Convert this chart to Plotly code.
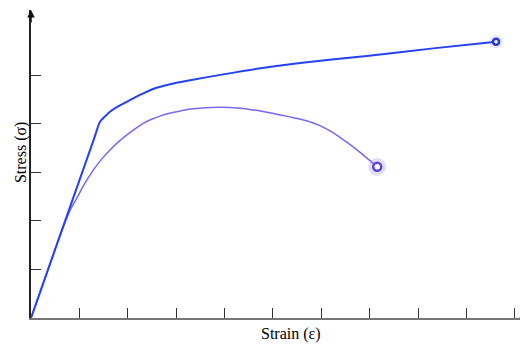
import plotly.graph_objects as go

# Data (strain and stress in tick units)
blue_strain = [0.0, 0.70, 1.30, 1.426, 1.53, 1.632, 1.80, 1.977, 2.15, 2.320, 2.527, 2.75, 3.010,
               3.29, 3.97, 4.67, 5.56, 6.94, 8.31, 9.61]
blue_stress = [0.0, 1.983, 3.682, 4.039, 4.15, 4.245, 4.355, 4.451, 4.54, 4.623, 4.715, 4.78, 4.841,
               4.895, 5.015, 5.13, 5.25, 5.395, 5.55, 5.685]

purple_strain = [0.0, 0.30, 0.60, 0.72, 0.83, 0.944, 1.10, 1.287, 1.46, 1.632, 1.80, 1.977, 2.15,
                 2.320, 2.49, 2.665, 2.84, 3.01, 3.29, 3.60, 3.90, 4.32, 4.79, 5.05, 5.35,
                 5.56, 5.76, 5.97, 6.18, 6.38, 6.59, 6.80, 7.155]
purple_stress = [0.0, 0.85, 1.70, 2.01, 2.26, 2.463, 2.75, 3.045, 3.27, 3.457, 3.62, 3.765, 3.895,
                 4.006, 4.09, 4.156, 4.21, 4.245, 4.30, 4.33, 4.34, 4.32, 4.25, 4.20, 4.14,
                 4.095, 4.04, 3.96, 3.85, 3.72, 3.575, 3.41, 3.113]

x_ticks = [1, 2, 3, 4, 5, 6, 7, 8, 9, 10]
y_ticks = [1, 2, 3, 4, 5]

BLUE = "#2442f5"
PURPLE = "#7868f2"

fig = go.Figure()
fig.add_trace(go.Scatter(x=purple_strain, y=purple_stress, mode="lines",
                         line=dict(color=PURPLE, width=1.5, shape="spline", smoothing=1.0),
                         hoverinfo="skip"))
fig.add_trace(go.Scatter(x=blue_strain, y=blue_stress, mode="lines",
                         line=dict(color=BLUE, width=2, shape="spline", smoothing=0.7),
                         hoverinfo="skip"))

# end markers with halo
for xs, ys, halo, ring, sz_h, sz_r, lw in [
    (blue_strain[-1], blue_stress[-1], "rgba(110,110,230,0.18)", "#2a38d8", 13, 6, 2.5),
    (purple_strain[-1], purple_stress[-1], "rgba(130,100,230,0.22)", "#5a48d0", 18, 8, 2.5),
]:
    fig.add_trace(go.Scatter(x=[xs], y=[ys], mode="markers",
                             marker=dict(size=sz_h, color=halo, line=dict(width=0)),
                             hoverinfo="skip"))
    fig.add_trace(go.Scatter(x=[xs], y=[ys], mode="markers",
                             marker=dict(size=sz_r, color="white", line=dict(width=lw, color=ring)),
                             hoverinfo="skip"))

fig.update_layout(
    width=528, height=345,
    margin=dict(l=23, r=9, t=2, b=35),
    paper_bgcolor="white", plot_bgcolor="white",
    showlegend=False,
    font=dict(family="Liberation Serif", size=16, color="black"),
    xaxis=dict(range=[0, 10.25], showgrid=False, zeroline=False, showline=True,
               linecolor="#777777", linewidth=2, ticks="inside", ticklen=10,
               tickwidth=1.2, tickcolor="#333333", tickvals=x_ticks,
               showticklabels=False, fixedrange=True),
    yaxis=dict(range=[0, 6.34], showgrid=False, zeroline=False, showline=True,
               linecolor="#222222", linewidth=1.5, ticks="inside", ticklen=10,
               tickwidth=1.2, tickcolor="#333333", tickvals=y_ticks,
               showticklabels=False, fixedrange=True),
    annotations=[
        dict(text="Strain (ε)", xref="paper", yref="paper", x=0.524, y=-0.052,
             showarrow=False, xanchor="center", yanchor="middle",
             font=dict(family="Liberation Serif", size=16, color="black")),
        dict(text="Stress (σ)", xref="paper", yref="paper", x=-0.02, y=0.539,
             showarrow=False, xanchor="center", yanchor="middle", textangle=-90,
             font=dict(family="Liberation Serif", size=16, color="black")),
        dict(text="", xref="paper", yref="paper", x=0, y=1, ax=0, ay=14,
             showarrow=True, arrowhead=2, arrowsize=1, arrowwidth=1.5, arrowcolor="#111111"),
        dict(text="", xref="paper", yref="paper", x=1.01, y=0, ax=-14, ay=0,
             showarrow=True, arrowhead=2, arrowsize=1, arrowwidth=1.5, arrowcolor="#555555"),
    ],
)

fig.write_html("out.html")
